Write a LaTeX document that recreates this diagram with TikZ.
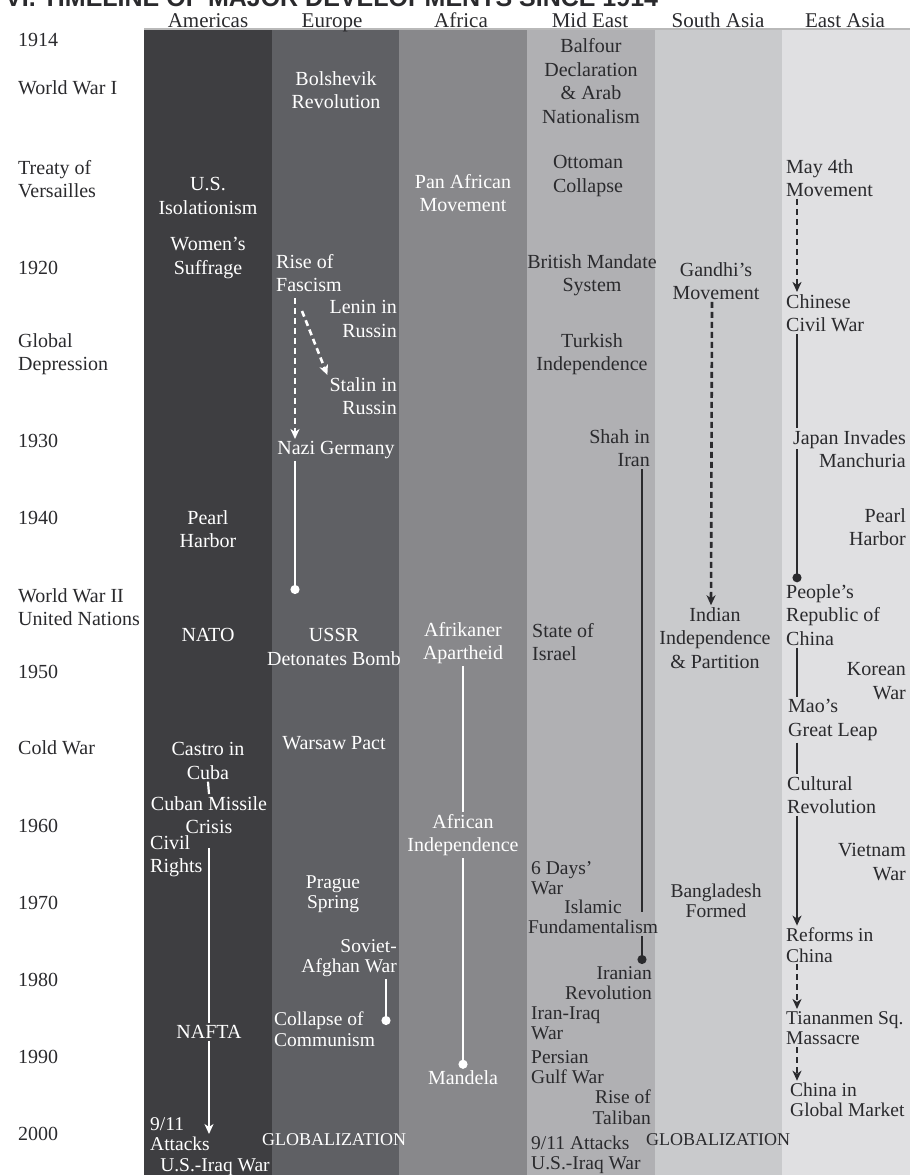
\documentclass[tikz,border=0pt]{standalone}
\usepackage{fontspec}
\setmainfont{Liberation Serif}
\newfontfamily\titlefont{Liberation Sans}
\usetikzlibrary{arrows.meta}
\definecolor{colAm}{RGB}{62,62,65}
\definecolor{colEu}{RGB}{95,96,100}
\definecolor{colAf}{RGB}{136,136,139}
\definecolor{colME}{RGB}{176,176,179}
\definecolor{colSA}{RGB}{201,202,204}
\definecolor{colEA}{RGB}{224,224,226}
\definecolor{ink}{RGB}{42,42,45}

\begin{document}
\begin{tikzpicture}[x=1pt,y=-1pt,
    every node/.style={font=\fontsize{20}{23.5}\selectfont, inner sep=2pt},
    tight/.style={font=\fontsize{19.5}{20.5}\selectfont},
    wt/.style={text=white, align=center},
    bk/.style={text=ink, align=center},
    lf/.style={anchor=west, align=left},
    rt/.style={anchor=east, align=right},
    wline/.style={white, line width=2.2pt},
    dline/.style={ink, line width=2pt},
    dsh/.style={line width=2.6pt, dash pattern=on 6pt off 4pt},
    stk/.style={-{Stealth[length=10pt,width=9pt,inset=3pt]}},
    enddot/.style={-{Circle[length=9pt]}}]
  \useasboundingbox (0,0) rectangle (910,1175);
  \clip (0,0) rectangle (910,1175);
  \node[anchor=base west, inner sep=0, text=ink, font=\titlefont\bfseries\fontsize{25}{28}\selectfont] (title) at (5,6) {VI. TIMELINE OF MAJOR DEVELOPMENTS SINCE 1914};

  \foreach \c [count=\i from 0] in {colAm,colEu,colAf,colME,colSA,colEA}
    \fill[\c] (144+\i*127.67,29) rectangle ++(128.2,1146);
  \draw[gray!55, line width=1.5pt] (144,29) -- (910,29);

  \foreach \x/\t [count=\i] in {208/Americas,332/Europe,461/Africa,590/Mid East,718/South Asia,845/East Asia}
    \node[bk, anchor=base, inner sep=0, font=\fontsize{21}{24}\selectfont] (hd\i) at (\x,27.5) {\t};

  \foreach \y/\t [count=\i] in {40/1914, 88/World War I, 179/{Treaty of\\Versailles}, 268/1920,
      354/{Global\\Depression}, 441/1930, 518/1940, 607/{World War II\\United Nations}, 672/1950,
      748/Cold War, 826/1960, 903/1970, 980/1980, 1057/1990, 1134/2000}
    \node[bk, lf] (yr\i) at (16,\y) {\t};

  \node[wt] (usiso) at (208,196) {U.S.\\Isolationism};
  \node[wt] (suffrage) at (208,258) {Women's\\Suffrage};
  \node[wt] (pearlam) at (208,529) {Pearl\\Harbor};
  \node[wt] (nato) at (208,635) {NATO};
  \node[wt] (castro) at (208,761) {Castro in\\Cuba};
  \node[wt] (missile) at (209,815) {Cuban Missile\\Crisis};
  \node[wt, lf] (civil) at (148,856) {Civil\\Rights};
  \node[wt] (nafta) at (209,1032) {NAFTA};
  \node[wt, lf, tight] (attacks) at (148,1134) {9/11\\Attacks};
  \node[wt, tight] (usiraq) at (215,1167) {U.S.-Iraq War};
  \node[wt, font=\fontsize{18}{22}\selectfont] (globeu) at (334,1140) {GLOBALIZATION};

  \node[wt] (bolshevik) at (336,90) {Bolshevik\\Revolution};
  \node[wt, lf] (fascism) at (274,273) {Rise of\\Fascism};
  \node[wt, rt] (lenin) at (399,319) {Lenin in\\Russin};
  \node[wt, rt] (stalin) at (399,396) {Stalin in\\Russin};
  \node[wt] (nazi) at (336,450) {Nazi Germany};
  \node[wt] (ussr) at (334,647) {USSR\\Detonates Bomb};
  \node[wt] (warsaw) at (334,743) {Warsaw Pact};
  \node[wt, tight] (prague) at (333,894) {Prague\\Spring};
  \node[wt, rt, tight] (soviet) at (399,958) {Soviet-\\Afghan War};
  \node[wt, lf, tight] (collapse) at (272,1029) {Collapse of\\Communism};

  \node[wt] (panafr) at (463,193) {Pan African\\Movement};
  \node[wt] (afrikaner) at (463,643) {Afrikaner\\Apartheid};
  \node[wt] (afrind) at (463,835) {African\\Independence};
  \node[wt] (mandela) at (463,1078) {Mandela};

  \node[bk] (balfour) at (591,81) {Balfour\\Declaration\\\& Arab\\Nationalism};
  \node[bk] (ottoman) at (588,176) {Ottoman\\Collapse};
  \node[bk] (mandate) at (592,275) {British Mandate\\System};
  \node[bk] (turkish) at (592,354) {Turkish\\Independence};
  \node[bk, rt] (shah) at (652,448) {Shah in\\Iran};
  \node[bk, lf] (israel) at (530,642) {State of\\Israel};
  \node[bk, lf, tight] (sixdays) at (529,878) {6 Days'\\War};
  \node[bk, tight] (islamic) at (593,917) {Islamic\\Fundamentalism};
  \node[bk, rt, tight] (iranrev) at (654,983) {Iranian\\Revolution};
  \node[bk, lf, tight] (iraniraq) at (529,1023) {Iran-Iraq\\War};
  \node[bk, lf, tight] (gulf) at (529,1067) {Persian\\Gulf War};
  \node[bk, rt, tight] (taliban) at (653,1107) {Rise of\\Taliban};
  \node[bk, lf, tight] (attacksme) at (529,1155) {9/11 Attacks\\U.S.-Iraq War};
  \node[bk, font=\fontsize{18}{22}\selectfont] (globsa) at (718,1140) {GLOBALIZATION};

  \node[bk] (gandhi) at (716,281) {Gandhi's\\Movement};
  \node[bk] (indind) at (715,638) {Indian\\Independence\\\& Partition};
  \node[bk, tight] (bangla) at (716,901) {Bangladesh\\Formed};

  \node[bk, lf] (may4) at (784,178) {May 4th\\Movement};
  \node[bk, lf] (civilwar) at (784,313) {Chinese\\Civil War};
  \node[bk, rt] (japan) at (908,449) {Japan Invades\\Manchuria};
  \node[bk, rt] (pearlea) at (908,527) {Pearl\\Harbor};
  \node[bk, lf] (prc) at (784,615) {People's\\Republic of\\China};
  \node[bk, rt] (korea) at (908,681) {Korean\\War};
  \node[bk, lf] (mao) at (786,720) {Mao's\\Great Leap};
  \node[bk, lf] (cultural) at (785,795) {Cultural\\Revolution};
  \node[bk, rt] (vietnam) at (908,862) {Vietnam\\War};
  \node[bk, lf, tight] (reforms) at (784,945) {Reforms in\\China};
  \node[bk, lf, tight] (tiananmen) at (784,1028) {Tiananmen Sq.\\Massacre};
  \node[bk, lf, tight] (market) at (788,1100) {China in\\Global Market};

  \coordinate (am1) at (209,848);
  \coordinate (am2) at (209,1134);
  \draw[wline] (castro.south) -- (missile.north);
  \draw[wline] (am1) -- (am1 |- nafta.north);
  \draw[wline, stk] (am1 |- nafta.south) -- (am2);

  \coordinate (eu1) at (295,298);
  \coordinate (eu2) at (302,311);
  \coordinate (eudot) at (295,594);
  \coordinate (svdot) at (386,1025);
  \draw[wline, dsh, stk] (eu1) -- (eu1 |- nazi.north);
  \draw[wline, dsh, stk] (eu2) -- (stalin.north west);
  \draw[wline, enddot] (eu1 |- nazi.south) -- (eudot);
  \draw[wline, enddot] (svdot |- soviet.south) -- (svdot);

  \draw[wline] (afrikaner.south) -- (afrind.north);
  \draw[wline, enddot] (afrind.south) -- (mandela.north);

  \coordinate (me1) at (642,912);
  \draw[dline] (me1 |- shah.south) -- (me1);
  \draw[dline, enddot] (me1 |- islamic.south) -- (me1 |- iranrev.north);

  \draw[ink, dsh, stk] ([xshift=-4pt]gandhi.south) -- ([xshift=-4pt]indind.north);

  \coordinate (ea) at (797,0);
  \draw[ink, dsh, stk] (ea |- may4.south) -- (ea |- civilwar.north);
  \draw[dline] (ea |- civilwar.south) -- (ea |- japan.north);
  \draw[dline, enddot] (ea |- japan) -- (ea |- prc.north);
  \draw[dline] (ea |- prc.south) -- (ea |- mao.north);
  \draw[dline] (ea |- mao.south) -- (ea |- cultural.north);
  \draw[dline, stk] (ea |- cultural.south) -- (ea |- reforms.north);
  \draw[ink, dsh, stk] (ea |- reforms.south) -- (ea |- tiananmen.north);
  \draw[ink, dsh, stk] (ea |- tiananmen.south) -- (ea |- market.north);
\end{tikzpicture}
\end{document}
